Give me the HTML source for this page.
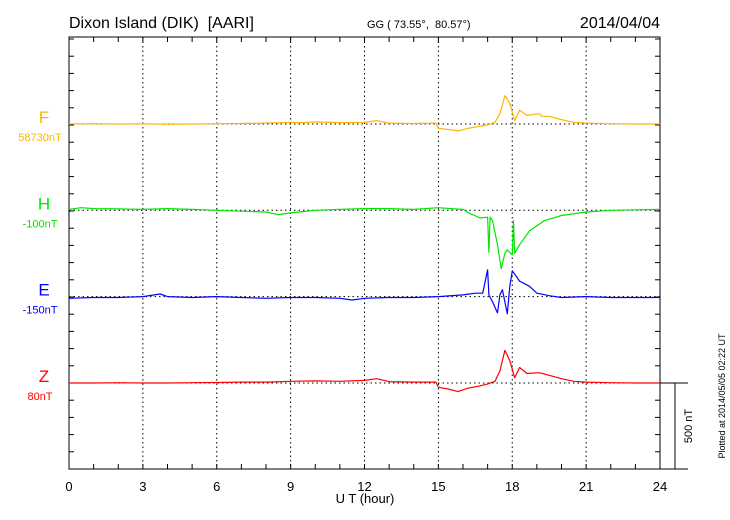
<!DOCTYPE html>
<html><head><meta charset="utf-8"><style>
body{margin:0;background:#fff;}
svg{display:block;font-family:"Liberation Sans",sans-serif;}
</style></head><body>
<svg id="c" width="730" height="520" viewBox="0 0 730 520"></svg>
<script>
const hourTicks=[0,3,6,9,12,15,18,21,24];
const traceNames=["F","H","E","Z"];
const traceColors=["#ffb400","#00e600","#0000ff","#ff0000"];
const baseLabels=["58730nT","-100nT","-150nT","80nT"];
const fHours=[0,1,2,3,4,5,6,7,8,9,9.5,10,11,12,12.5,13,14,14.9,15,15.3,15.8,16.2,16.6,17,17.3,17.5,17.7,17.9,18.1,18.3,18.6,19.1,19.2,19.5,20,20.5,21,22,23,24];
const fVals=[0,2,0,1,-2,0,2,3,5,10,8,12,8,10,20,5,3,5,-25,-30,-40,-25,-15,-5,10,60,165,120,20,80,50,60,45,45,25,10,5,2,0,0];
const hHours=[0,0.5,1,2,3,4,5,6,7,8,8.5,9,10,11,12,13,14,15,15.5,16,16.3,16.7,17,17.05,17.1,17.2,17.4,17.55,17.7,17.8,18,18.05,18.1,18.3,18.7,19.3,20,21,22,23,24];
const hVals=[5,15,10,8,5,10,5,0,-5,-10,-25,-15,0,5,10,10,5,15,10,5,-20,-45,-40,-245,-40,-60,-200,-340,-250,-230,-260,-60,-250,-200,-120,-60,-30,-10,0,3,5];
const eHours=[0,1,2,3,3.7,4,5,6,7,8,9,10,11,11.5,12,13,14,15,16,16.5,16.8,17,17.05,17.2,17.4,17.5,17.6,17.8,17.9,18,18.3,18.7,19,19.5,20,21,22,23,24];
const eVals=[-10,-5,-5,0,15,0,-5,0,-5,-10,-5,-5,-10,-20,-10,-5,-5,0,10,20,20,155,10,-30,-95,10,40,-100,60,150,90,60,20,5,-5,0,-5,-5,-5];
const zHours=[0,1,2,3,4,5,6,7,8,9,10,11,12,12.5,13,14,14.9,15,15.4,15.8,16.2,16.6,17,17.3,17.5,17.7,17.9,18.1,18.3,18.6,19.1,19.5,20,20.5,21,22,23,24];
const zVals=[0,0,2,0,0,2,3,5,5,10,12,10,15,25,8,5,5,-25,-35,-50,-30,-20,-5,10,70,190,130,30,90,55,60,45,25,10,5,2,0,0];

const NS="http://www.w3.org/2000/svg";
const svg=document.getElementById('c');
const X0=69,X1=660,Y0=37,Y1=469;
const baseY=[124,210.3,296.6,383];
const pxPerNT=86/500;
function xs(h){return X0+(X1-X0)*h/24;}
function ys(i,v){return baseY[i]-v*pxPerNT;}
function mk(tag,attrs,parent){const e=document.createElementNS(NS,tag);for(const k in attrs)e.setAttribute(k,attrs[k]);(parent||svg).appendChild(e);return e;}
function txt(s,attrs){const e=mk('text',attrs);e.textContent=s;return e;}

let t;
t=txt("Dixon Island (DIK)\u00a0\u00a0[AARI]",{x:69,y:28,'font-size':16});

t=txt("GG ( 73.55°,\u00a0\u00a080.57°)",{x:367,y:28,'font-size':11});

t=txt("2014/04/04",{x:660,y:28,'font-size':16,'text-anchor':'end'});


for(let h=3;h<24;h+=3){const g=mk('line',{x1:xs(h),x2:xs(h),y1:Y0,y2:Y1,stroke:'#000','stroke-width':1,'stroke-dasharray':'1.5,3'});
}
for(let i=0;i<4;i++){const g=mk('line',{x1:X0,x2:X1,y1:baseY[i],y2:baseY[i],stroke:'#000','stroke-width':1,'stroke-dasharray':'1.5,3'});
}
for(let h=1;h<24;h++){const L=5;
const a=mk('line',{x1:xs(h),x2:xs(h),y1:Y1,y2:Y1-L,stroke:'#000'});
const b=mk('line',{x1:xs(h),x2:xs(h),y1:Y0,y2:Y0+L,stroke:'#000'});}
for(let y=Y1;y>Y0;y-=17.2){
const a=mk('line',{x1:X0,x2:X0+5,y1:y,y2:y,stroke:'#000'});
const b=mk('line',{x1:X1,x2:X1-5,y1:y,y2:y,stroke:'#000'});}
const fr=mk('rect',{x:X0,y:Y0,width:X1-X0,height:Y1-Y0,fill:'none',stroke:'#000','stroke-width':1});

hourTicks.forEach(h=>{const e=txt(String(h),{x:xs(h),y:491,'font-size':13,'text-anchor':'middle'});
});
t=txt("U T (hour)",{x:365,y:503,'font-size':13,'text-anchor':'middle'});


const HS=[fHours,hHours,eHours,zHours],VS=[fVals,hVals,eVals,zVals];
for(let i=0;i<4;i++){
const d=HS[i].map((h,j)=>(j?'L':'M')+xs(h).toFixed(1)+','+ys(i,VS[i][j]).toFixed(1)).join('');
const p=mk('path',{d:d,fill:'none',stroke:traceColors[i],'stroke-width':1.2,'stroke-linejoin':'round'});

const n=txt(traceNames[i],{x:44,y:baseY[i]-1,'font-size':17,fill:traceColors[i],'text-anchor':'middle'});

const b=txt(baseLabels[i],{x:40,y:baseY[i]+17,'font-size':11,fill:traceColors[i],'text-anchor':'middle'});

}
const s1=mk('line',{x1:660,x2:688,y1:383,y2:383,stroke:'#000'});
const s2=mk('line',{x1:675,x2:675,y1:383,y2:469,stroke:'#000'});
const s3=mk('line',{x1:660,x2:688,y1:469,y2:469,stroke:'#000'});
t=txt("500 nT",{x:0,y:0,'font-size':11,'text-anchor':'middle',transform:'translate(692,426) rotate(-90)'});

t=txt("Plotted at 2014/05/05 02:22 UT",{x:0,y:0,'font-size':9,'text-anchor':'middle',transform:'translate(725,396) rotate(-90)'});

</script>
</body></html>
